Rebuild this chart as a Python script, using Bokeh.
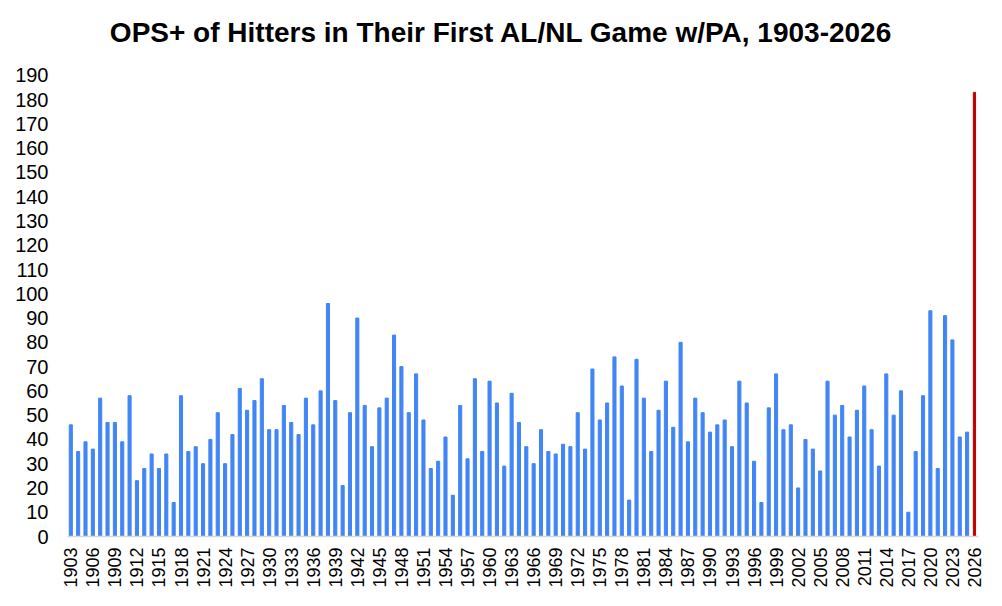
import math
from bokeh.plotting import figure
from bokeh.models import FixedTicker, Range1d
from bokeh.core.properties import value
from bokeh.embed import file_html
from bokeh.resources import INLINE

first_year = 1903
ops_plus = [
    46, 35, 39, 36, 57, 47, 47,
    39, 58, 23, 28, 34, 28, 34, 14, 58, 35,
    37, 30, 40, 51, 30, 42, 61, 52, 56, 65,
    44, 44, 54, 47, 42, 57, 46, 60, 96, 56,
    21, 51, 90, 54, 37, 53, 57, 83, 70, 51,
    67, 48, 28, 31, 41, 17, 54, 32, 65, 35,
    64, 55, 29, 59, 47, 37, 30, 44, 35, 34,
    38, 37, 51, 36, 69, 48, 55, 74, 62, 15,
    73, 57, 35, 52, 64, 45, 80, 39, 57, 51,
    43, 46, 48, 37, 64, 55, 31, 14, 53, 67,
    44, 46, 20, 40, 36, 27, 64, 50, 54, 41,
    52, 62, 44, 29, 67, 50, 60, 10, 35, 58,
    93, 28, 91, 81, 41, 43,
]
years = list(range(first_year, first_year + len(ops_plus)))
current_year = [2026]
current_ops = [183]
tick_years = list(range(1903, 2027, 3))
y_ticks = list(range(0, 200, 10))
title_text = "OPS+ of Hitters in Their First AL/NL Game w/PA, 1903-2026"

# frame runs to the top of the canvas; the title sits above the 190 tick inside it
p = figure(width=994, height=598, output_backend="svg", toolbar_location=None,
           x_range=Range1d(1902.55, 2026.55), y_range=Range1d(0, 220.84),
           min_border_left=67, min_border_right=16, min_border_top=0, min_border_bottom=62)
p.title.text = ""

p.vbar(x=years, top=ops_plus, width=0.42, color="#4285F4")
p.vbar(x=current_year, top=current_ops, width=0.3, color="#C00000")

p.text(x=[1961.6], y=[207.6], text=[title_text], text_align="center",
       text_baseline="middle", text_font=value("Liberation Sans"),
       text_font_size="28px", text_font_style="bold", text_color="#000000")

p.xgrid.visible = False
p.ygrid.visible = False
p.outline_line_color = None

xa = p.xaxis[0]
xa.ticker = FixedTicker(ticks=tick_years)
xa.major_label_orientation = math.pi / 2
xa.axis_line_color = "#D9D9D9"
xa.axis_line_width = 1.5
xa.major_tick_line_color = None
xa.minor_tick_line_color = None
xa.major_tick_out = 0
xa.major_tick_in = 0
xa.major_label_standoff = 11
xa.major_label_text_font = "Liberation Sans"
xa.major_label_text_font_size = "18px"
xa.major_label_text_color = "#000000"

ya = p.yaxis[0]
ya.ticker = FixedTicker(ticks=y_ticks)
ya.axis_line_color = None
ya.major_tick_line_color = None
ya.minor_tick_line_color = None
ya.major_tick_out = 0
ya.major_tick_in = 0
ya.major_label_standoff = 19
ya.major_label_text_font = "Liberation Sans"
ya.major_label_text_font_size = "20px"
ya.major_label_text_color = "#000000"

open("out.html", "w").write(file_html(p, INLINE))
